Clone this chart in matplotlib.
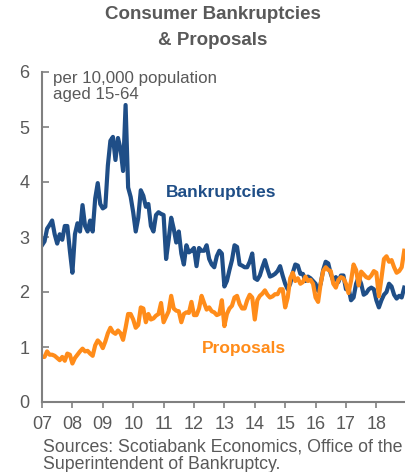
import numpy as np
import matplotlib.pyplot as plt

# monthly, Jan 2007 - Dec 2018, per 10,000 population aged 15-64
bankruptcies = [
    2.85, 2.92, 3.15, 3.22, 3.30, 3.05, 2.88, 3.05, 2.95, 3.20, 3.20, 2.75,   # 07
    2.35, 3.05, 3.25, 3.10, 3.58, 3.20, 3.10, 3.30, 3.10, 3.70, 3.98, 3.60,   # 08
    3.52, 3.55, 4.30, 4.75, 4.82, 4.40, 4.80, 4.60, 4.20, 5.40, 3.90, 3.73,   # 09
    3.45, 3.10, 3.35, 3.85, 3.75, 3.55, 3.60, 3.20, 3.10, 3.40, 3.45, 3.42,   # 10
    3.40, 2.60, 2.95, 3.35, 3.15, 2.90, 3.10, 2.70, 2.50, 2.85, 2.72, 2.75,   # 11
    2.80, 2.47, 2.80, 2.75, 2.75, 2.85, 2.60, 2.50, 2.45, 2.65, 2.75, 2.70,   # 12
    2.10, 2.20, 2.40, 2.58, 2.85, 2.82, 2.50, 2.48, 2.45, 2.45, 2.55, 2.70,   # 13
    2.25, 2.22, 2.30, 2.45, 2.58, 2.42, 2.28, 2.30, 2.33, 2.38, 2.47, 2.30,   # 14
    2.15, 2.05, 2.15, 2.35, 2.50, 2.48, 2.33, 2.33, 2.20, 2.28, 2.25, 2.20,   # 15
    2.15, 2.02, 2.15, 2.40, 2.55, 2.52, 2.33, 2.20, 2.27, 2.18, 2.30, 2.30,   # 16
    2.05, 2.08, 1.85, 1.90, 2.15, 2.27, 2.15, 1.95, 1.98, 2.05, 2.08, 2.05,   # 17
    1.85, 1.72, 1.85, 1.95, 2.00, 2.15, 2.10, 1.95, 1.88, 1.93, 1.90, 2.08,   # 18
]
proposals = [
    0.82, 0.82, 0.92, 0.86, 0.86, 0.84, 0.80, 0.76, 0.82, 0.75, 0.88, 0.86,   # 07
    0.70, 0.80, 0.86, 0.92, 0.97, 0.92, 0.93, 0.88, 0.84, 1.03, 1.12, 1.07,   # 08
    0.98, 1.10, 1.25, 1.35, 1.27, 1.24, 1.30, 1.25, 1.13, 1.35, 1.60, 1.60,   # 09
    1.50, 1.35, 1.40, 1.72, 1.70, 1.45, 1.60, 1.50, 1.52, 1.57, 1.60, 1.80,   # 10
    1.45, 1.55, 1.65, 1.93, 1.70, 1.66, 1.65, 1.45, 1.60, 1.63, 1.62, 1.82,   # 11
    1.58, 1.58, 1.70, 1.93, 1.80, 1.68, 1.72, 1.65, 1.63, 1.58, 1.60, 1.85,   # 12
    1.38, 1.60, 1.70, 1.75, 1.90, 1.93, 1.78, 1.70, 1.70, 1.85, 1.95, 1.90,   # 13
    1.50, 1.85, 1.93, 1.97, 2.03, 1.95, 1.90, 1.92, 1.96, 1.96, 2.05, 2.05,   # 14
    1.72, 1.90, 2.25, 2.35, 2.20, 2.25, 2.15, 2.18, 2.28, 2.20, 2.22, 2.15,   # 15
    1.90, 1.82, 2.15, 2.38, 2.45, 2.40, 2.38, 2.15, 2.08, 2.22, 2.27, 2.25,   # 16
    2.15, 1.98, 2.20, 2.50, 2.40, 2.12, 2.37, 2.32, 2.27, 2.25, 2.30, 2.38,   # 17
    2.35, 1.92, 2.25, 2.60, 2.65, 2.55, 2.58, 2.45, 2.35, 2.38, 2.45, 2.75,   # 18
]
year_labels = ['07', '08', '09', '10', '11', '12', '13', '14', '15', '16', '17', '18']

BLUE = '#1f4e87'
ORANGE = '#ff8c1a'
GRIS = '#595959'

plt.rcParams['font.family'] = ['Liberation Sans', 'DejaVu Sans']

fig = plt.figure(figsize=(4.06, 4.72), dpi=100)
ax = fig.add_axes([42 / 406, 70 / 472, 364 / 406, 330 / 472])

meses = np.arange(len(bankruptcies))
ax.plot(meses, bankruptcies, color=BLUE, lw=3.0, solid_joinstyle='round')
ax.plot(meses, proposals, color=ORANGE, lw=3.0, solid_joinstyle='round')

ax.set_xlim(0, 143.7)
ax.set_ylim(0, 6)
ax.set_xticks(np.arange(len(year_labels)) * 12)
ax.set_xticklabels(year_labels)
ax.set_yticks(range(7))

for lado in ['top', 'right']:
    ax.spines[lado].set_visible(False)
for lado in ['left', 'bottom']:
    ax.spines[lado].set_color('#808080')
    ax.spines[lado].set_linewidth(1.5)
ax.tick_params(axis='y', direction='in', length=5, width=1.2, color='#808080',
               labelsize=13, labelcolor=GRIS, pad=9)
ax.tick_params(axis='x', direction='out', length=4, width=1.2, color='#808080',
               labelsize=13, labelcolor=GRIS, pad=6)

ax.text(4.5, 6.02, 'per 10,000 population\naged 15-64', color=GRIS, fontsize=12.2,
        va='top', ha='left', linespacing=1.05)
ax.text(49, 3.8, 'Bankruptcies', color=BLUE, fontsize=12.5, fontweight='bold', va='center')
ax.text(63, 0.98, 'Proposals', color=ORANGE, fontsize=12.5, fontweight='bold', va='center')

fig.text(213 / 406, 1 - 6 / 472, 'Consumer Bankruptcies\n& Proposals', color=GRIS,
         fontsize=13.5, fontweight='bold', ha='center', va='top', linespacing=1.7)
fig.text(43 / 406, 1 - 438 / 472, 'Sources: Scotiabank Economics, Office of the\nSuperintendent of Bankruptcy.',
         color=GRIS, fontsize=12.8, ha='left', va='top', linespacing=1.05)

fig.savefig('out.png', dpi=100)
